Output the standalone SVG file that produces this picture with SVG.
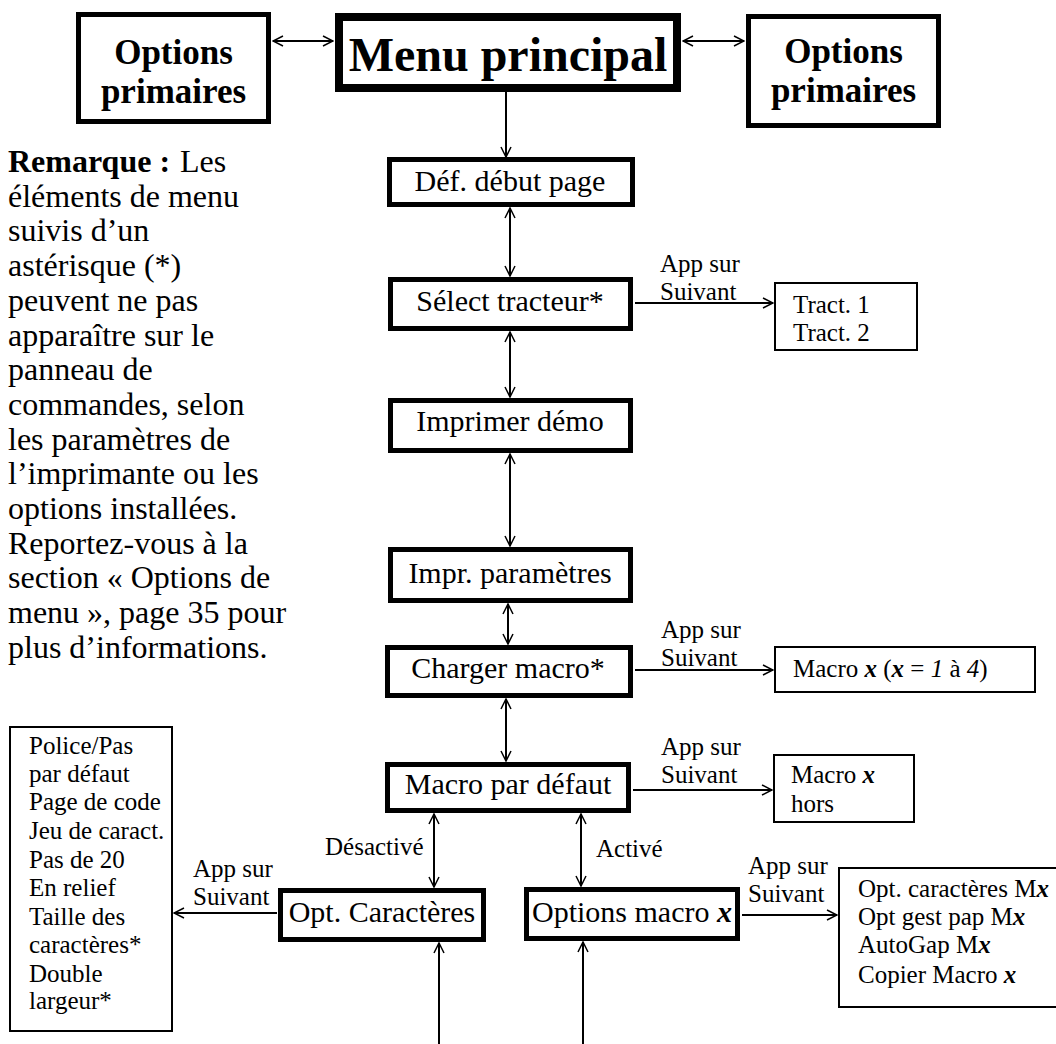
<svg xmlns="http://www.w3.org/2000/svg" width="1056" height="1044" viewBox="0 0 1056 1044">
<style>
text { font-family: 'Liberation Serif', 'DejaVu Serif', serif; fill: #000; }
.big { font-size: 35px; font-weight: bold; text-anchor: middle; }
.huge { font-size: 48px; font-weight: bold; text-anchor: middle; }
.lbl { font-size: 30px; text-anchor: middle; }
.sm { font-size: 25px; }
.note { font-size: 32px; }
.b5 { fill: #fff; stroke: #000; stroke-width: 5; }
.b8 { fill: #fff; stroke: #000; stroke-width: 8; }
.b2 { fill: #fff; stroke: #000; stroke-width: 2; }
.c { stroke: #000; stroke-width: 2; fill: none; }
.v { font-style: italic; font-weight: bold; }
.i { font-style: italic; }
</style>
<defs>
<marker id="ah" viewBox="0 0 12 12" refX="11" refY="6" markerWidth="12" markerHeight="12" markerUnits="userSpaceOnUse" orient="auto-start-reverse">
<path d="M1,1 L11,6 L1,11" fill="none" stroke="#000" stroke-width="1.5"/>
</marker>
</defs>

<g id="connectors">
<line class="c" x1="273" y1="41" x2="333" y2="41" marker-start="url(#ah)" marker-end="url(#ah)"/>
<line class="c" x1="683" y1="41" x2="744" y2="41" marker-start="url(#ah)" marker-end="url(#ah)"/>
<line class="c" x1="506" y1="92" x2="506" y2="157" marker-end="url(#ah)"/>
<line class="c" x1="510" y1="208" x2="510" y2="276" marker-start="url(#ah)" marker-end="url(#ah)"/>
<line class="c" x1="510" y1="332" x2="510" y2="397" marker-start="url(#ah)" marker-end="url(#ah)"/>
<line class="c" x1="510" y1="454" x2="510" y2="546" marker-start="url(#ah)" marker-end="url(#ah)"/>
<line class="c" x1="508" y1="604" x2="508" y2="644" marker-start="url(#ah)" marker-end="url(#ah)"/>
<line class="c" x1="506" y1="699" x2="506" y2="761" marker-start="url(#ah)" marker-end="url(#ah)"/>
<line class="c" x1="434" y1="814" x2="434" y2="887" marker-start="url(#ah)" marker-end="url(#ah)"/>
<line class="c" x1="581" y1="814" x2="581" y2="886" marker-start="url(#ah)" marker-end="url(#ah)"/>
<line class="c" x1="635" y1="303" x2="773" y2="303" marker-end="url(#ah)"/>
<line class="c" x1="635" y1="670" x2="773" y2="670" marker-end="url(#ah)"/>
<line class="c" x1="633" y1="790" x2="772" y2="790" marker-end="url(#ah)"/>
<line class="c" x1="277" y1="913" x2="174" y2="913" marker-end="url(#ah)"/>
<line class="c" x1="742" y1="915" x2="837" y2="915" marker-end="url(#ah)"/>
<line class="c" x1="439" y1="1044" x2="439" y2="943" marker-end="url(#ah)"/>
<line class="c" x1="583" y1="1044" x2="583" y2="942" marker-end="url(#ah)"/>
<text class="sm" x="660" y="272">App sur</text>
<text class="sm" x="660" y="300">Suivant</text>
<text class="sm" x="661" y="638">App sur</text>
<text class="sm" x="661" y="666">Suivant</text>
<text class="sm" x="661" y="755">App sur</text>
<text class="sm" x="661" y="783">Suivant</text>
<text class="sm" x="596" y="857">Activé</text>
<text class="sm" x="325" y="855">Désactivé</text>
<text class="sm" x="193" y="877">App sur</text>
<text class="sm" x="193" y="905">Suivant</text>
<text class="sm" x="748" y="874">App sur</text>
<text class="sm" x="748" y="902">Suivant</text>
</g>

<g id="opt-left">
<rect class="b5" x="78.5" y="14.5" width="190" height="107"/>
<text class="big" x="173.5" y="64">Options</text>
<text class="big" x="173.5" y="103">primaires</text>
</g>
<g id="menu-principal">
<rect class="b8" x="339" y="17" width="338" height="71"/>
<text class="huge" x="508" y="71">Menu principal</text>
</g>
<g id="opt-right">
<rect class="b5" x="748.5" y="16.5" width="190" height="109"/>
<text class="big" x="843.5" y="63">Options</text>
<text class="big" x="843.5" y="102">primaires</text>
</g>

<g id="note">
<text class="note" x="8" y="172"><tspan font-weight="bold">Remarque :</tspan></text>
<text class="note" x="180" y="172">Les</text>
<text class="note" x="8" y="206.7">éléments de menu</text>
<text class="note" x="8" y="241.4">suivis d’un</text>
<text class="note" x="8" y="276.1">astérisque (*)</text>
<text class="note" x="8" y="310.8">peuvent ne pas</text>
<text class="note" x="8" y="345.5">apparaître sur le</text>
<text class="note" x="8" y="380.2">panneau de</text>
<text class="note" x="8" y="414.9">commandes, selon</text>
<text class="note" x="8" y="449.6">les paramètres de</text>
<text class="note" x="8" y="484.3">l’imprimante ou les</text>
<text class="note" x="8" y="519">options installées.</text>
<text class="note" x="8" y="553.7">Reportez-vous à la</text>
<text class="note" x="8" y="588.4">section « Options de</text>
<text class="note" x="8" y="623.1">menu », page 35 pour</text>
<text class="note" x="8" y="657.8">plus d’informations.</text>
</g>

<g id="def-debut-page">
<rect class="b5" x="389.5" y="159.5" width="243" height="45"/>
<text class="lbl" x="510" y="191">Déf. début page</text>
</g>
<g id="select-tracteur">
<rect class="b5" x="390.5" y="279.5" width="240" height="49"/>
<text class="lbl" x="510" y="311">Sélect tracteur*</text>
</g>
<g id="tract">
<rect class="b2" x="775" y="283" width="142" height="67"/>
<text class="sm" x="793" y="313">Tract. 1</text>
<text class="sm" x="793" y="341">Tract. 2</text>
</g>
<g id="imprimer-demo">
<rect class="b5" x="390.5" y="400.5" width="240" height="50"/>
<text class="lbl" x="510" y="431">Imprimer démo</text>
</g>
<g id="impr-parametres">
<rect class="b5" x="390.5" y="549.5" width="240" height="51"/>
<text class="lbl" x="510" y="583">Impr. paramètres</text>
</g>
<g id="charger-macro">
<rect class="b5" x="387.5" y="647.5" width="243" height="48"/>
<text class="lbl" x="508" y="678">Charger macro*</text>
</g>
<g id="macro-x">
<rect class="b2" x="775" y="647" width="260" height="45"/>
<text class="sm" x="793" y="677">Macro <tspan class="v">x</tspan> (<tspan class="v">x</tspan> = <tspan class="i">1</tspan> à <tspan class="i">4</tspan>)</text>
</g>
<g id="macro-par-defaut">
<rect class="b5" x="387.5" y="764.5" width="241" height="46"/>
<text class="lbl" x="508" y="794">Macro par défaut</text>
</g>
<g id="macro-x-hors">
<rect class="b2" x="774" y="755" width="140" height="67"/>
<text class="sm" x="791" y="783">Macro <tspan class="v">x</tspan></text>
<text class="sm" x="791" y="812">hors</text>
</g>
<g id="opt-caracteres">
<rect class="b5" x="280.5" y="890.5" width="203" height="49"/>
<text class="lbl" x="382" y="922">Opt. Caractères</text>
</g>
<g id="options-macro">
<rect class="b5" x="526.5" y="889.5" width="211" height="49"/>
<text class="lbl" x="632" y="922">Options macro <tspan class="v">x</tspan></text>
</g>
<g id="liste-caracteres">
<rect class="b2" x="10" y="727" width="162" height="304"/>
<text class="sm" x="29" y="754">Police/Pas</text>
<text class="sm" x="29" y="782">par défaut</text>
<text class="sm" x="29" y="810">Page de code</text>
<text class="sm" x="29" y="839">Jeu de caract.</text>
<text class="sm" x="29" y="868">Pas de 20</text>
<text class="sm" x="29" y="896">En relief</text>
<text class="sm" x="29" y="925">Taille des</text>
<text class="sm" x="29" y="953">caractères*</text>
<text class="sm" x="29" y="982">Double</text>
<text class="sm" x="29" y="1009">largeur*</text>
</g>
<g id="liste-macro">
<rect class="b2" x="839" y="868" width="240" height="139"/>
<text class="sm" x="858" y="897">Opt. caractères M<tspan class="v">x</tspan></text>
<text class="sm" x="858" y="925">Opt gest pap M<tspan class="v">x</tspan></text>
<text class="sm" x="858" y="953">AutoGap M<tspan class="v">x</tspan></text>
<text class="sm" x="858" y="983">Copier Macro <tspan class="v">x</tspan></text>
</g>
</svg>
